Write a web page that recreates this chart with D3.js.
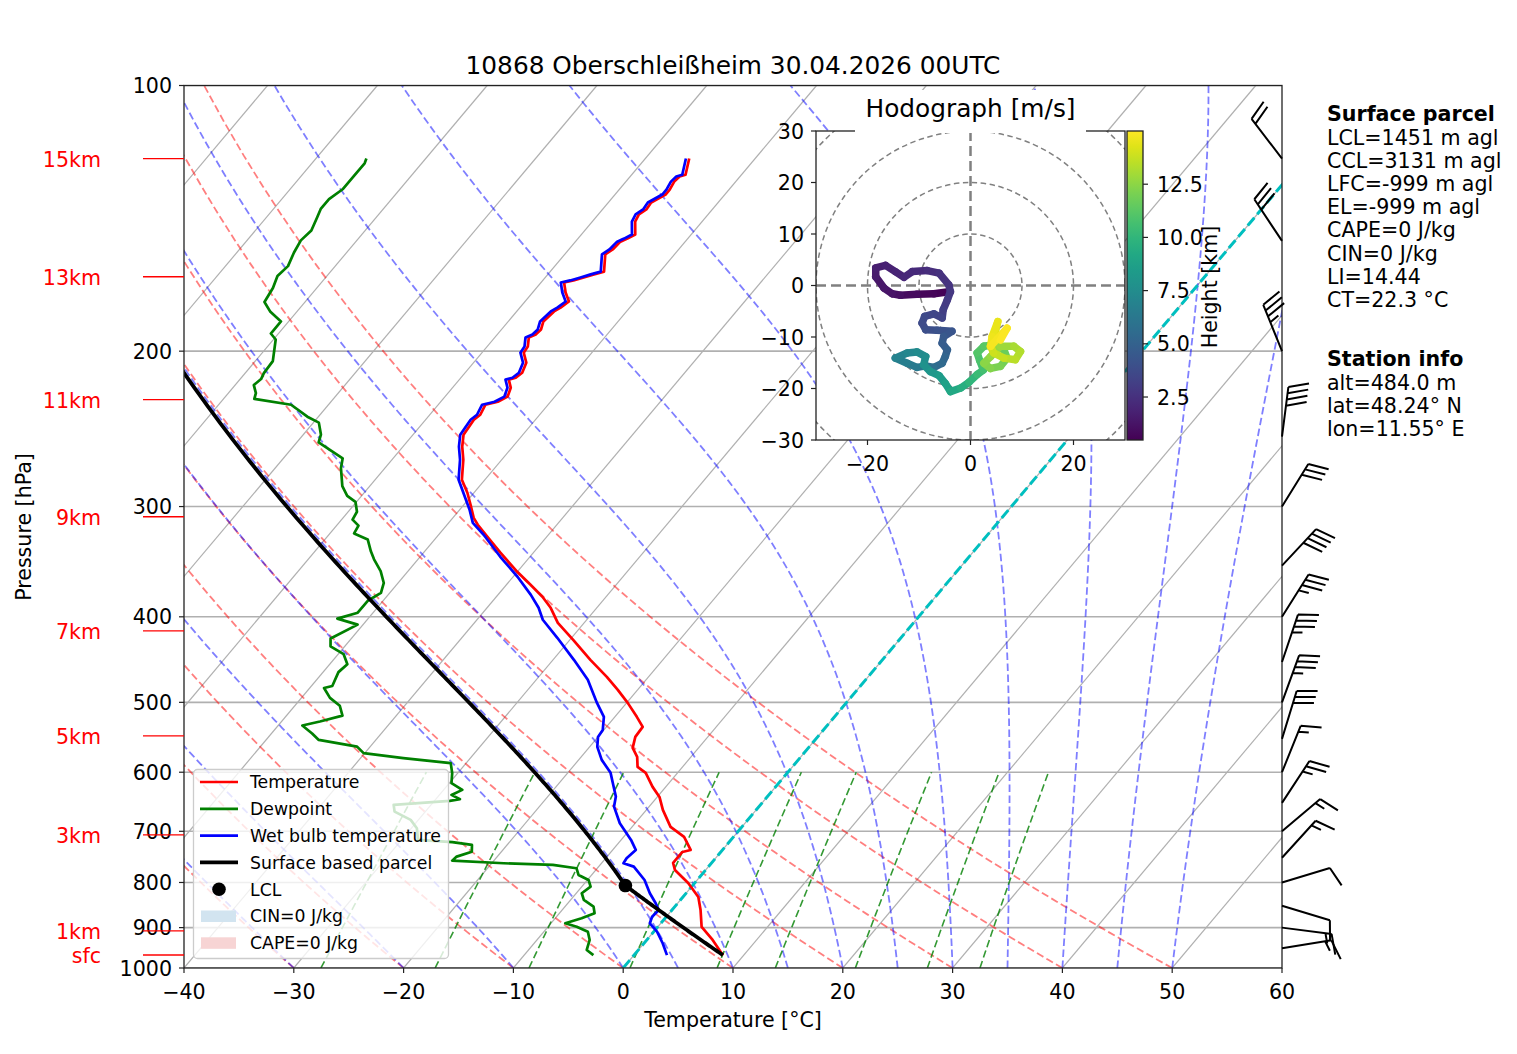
<!DOCTYPE html>
<html>
<head>
<meta charset="utf-8">
<script src="https://cdn.jsdelivr.net/npm/d3@7"></script>
<style>
body { margin: 0; background: #fff; }
svg text { font-family: "DejaVu Sans", sans-serif; }
</style>
</head>
<body>
<div id="chart"></div>
<script>

// ---- SOUNDING DATA (hPa / degC) ----

const tempP = [121.0,126.2,126.8,128.5,131.2,132.9,135.7,138.2,140.0,142.6,147.5,149.1,150.3,153.4,155.4,162.5,163.7,165.0,166.3,167.2,
  171.6,175.7,178.5,180.3,185.1,189.0,191.5,193.0,197.6,200.8,206.1,211.6,214.4,215.4,220.0,225.2,228.2,230.0,236.1,239.2,
  248.7,256.6,265.5,279.7,289.4,300.1,309.0,314.6,324.6,338.4,355.7,367.9,379.6,390.7,406.3,424.7,447.5,467.8,484.0,500.7,
  519.3,533.0,547.2,563.1,576.5,591.7,601.0,623.4,640.0,662.0,692.0,710.3,734.9,738.8,760.3,774.3,801.0,830.8,859.5,898.5,
  929.5,967.0]
const tempT = [-56.0,-55.1,-55.5,-55.6,-55.4,-55.4,-56.1,-56.0,-56.3,-56.1,-55.1,-55.5,-55.9,-56.0,-56.3,-55.1,-55.8,-56.5,-57.2,-57.9,
  -57.0,-56.0,-56.3,-56.6,-56.8,-56.4,-56.5,-56.9,-56.3,-56.2,-55.2,-54.8,-55.0,-55.5,-54.7,-54.3,-54.8,-55.7,-55.4,-55.6,
  -55.4,-54.6,-53.5,-52.1,-50.6,-49.2,-48.1,-47.2,-45.4,-43.0,-40.0,-37.8,-35.8,-34.2,-32.4,-29.7,-26.6,-23.8,-21.8,-19.9,
  -18.0,-16.7,-16.6,-16.0,-14.9,-14.1,-12.9,-11.2,-9.8,-8.5,-6.5,-4.5,-2.9,-3.5,-3.5,-2.8,-0.6,1.4,2.6,4.0,
  6.0,8.1]

const wetP = [121.0,126.2,126.8,128.5,131.2,132.9,135.7,138.2,140.0,142.6,147.5,149.1,150.3,153.4,155.4,162.5,163.7,165.0,166.3,167.2,
  171.6,175.7,178.5,180.3,185.1,189.0,191.5,193.0,197.6,200.8,206.1,211.6,214.4,215.4,220.0,225.2,228.2,230.0,236.1,239.2,
  248.7,256.6,265.5,279.7,294.7,302.5,313.0,322.9,342.0,360.3,377.7,390.7,403.1,422.5,447.5,471.5,500.7,519.3,537.3,547.2,
  561.6,581.0,601.0,617.4,639.4,656.3,685.4,715.9,734.9,751.0,760.9,767.6,794.8,822.8,844.6,859.5,874.7,889.9,909.6,937.5,
  967.0]
const wetT = [-56.3,-55.4,-55.8,-55.9,-55.7,-55.7,-56.4,-56.3,-56.6,-56.4,-55.4,-55.8,-56.2,-56.3,-56.6,-55.4,-56.1,-56.8,-57.5,-58.2,
  -57.3,-56.3,-56.6,-56.9,-57.1,-56.7,-56.8,-57.2,-56.6,-56.5,-55.5,-55.1,-55.3,-55.8,-55.0,-54.6,-55.1,-56.0,-55.7,-55.9,
  -55.7,-54.9,-53.8,-52.4,-50.2,-49.1,-47.8,-45.9,-42.7,-39.6,-37.0,-35.3,-34.0,-31.3,-28.1,-25.3,-22.7,-21.0,-20.1,-20.0,
  -19.3,-17.9,-16.1,-15.1,-13.8,-13.2,-11.4,-9.1,-7.9,-8.1,-8.0,-6.8,-4.8,-3.3,-2.0,-1.2,-1.3,-1.0,0.3,1.7,
  3.0]

const dewP = [121.0,122.5,125.7,131.0,134.5,138.0,140.9,146.0,149.8,154.6,160.2,164.4,169.6,175.9,180.5,185.1,191.0,194.0,205.3,211.8,
  215.1,218.5,223.1,226.5,230.0,237.3,241.0,248.6,253.8,259.1,264.5,271.4,284.4,291.8,296.3,304.1,310.4,315.3,321.8,326.9,
  337.2,344.3,355.0,366.2,375.8,383.6,395.7,401.9,408.2,423.2,432.0,441.0,452.6,462.1,479.1,481.6,494.2,504.5,517.7,525.7,
  531.2,542.3,551.5,561.2,570.9,578.4,586.0,601.5,617.4,628.3,636.6,643.8,646.6,653.4,665.0,679.5,694.4,715.9,720.2,725.4,
  738.2,747.8,755.7,760.9,764.2,770.8,784.4,794.8,808.8,822.8,837.3,852.1,866.9,878.3,889.9,897.8,909.6,929.5,954.1,967.0]
const dewT = [-85.4,-85.2,-85.2,-85.2,-85.7,-85.7,-85.4,-84.9,-85.1,-84.8,-84.3,-84.5,-84.0,-83.7,-82.4,-80.7,-80.7,-79.8,-78.4,-78.3,
  -78.1,-78.3,-77.5,-77.2,-73.4,-71.0,-69.5,-68.4,-68.0,-66.3,-64.6,-64.0,-62.5,-61.3,-60.1,-59.2,-59.0,-58.0,-57.8,-56.1,
  -54.9,-54.0,-52.5,-51.3,-50.8,-51.4,-51.4,-52.8,-50.5,-51.9,-51.3,-49.5,-48.4,-48.6,-48.1,-48.7,-47.4,-45.9,-44.9,-46.5,
  -47.8,-46.3,-45.2,-41.2,-40.1,-36.1,-31.4,-30.5,-29.8,-28.3,-28.9,-27.8,-28.6,-33.4,-32.8,-30.7,-29.5,-28.5,-25.2,-23.2,
  -22.7,-23.7,-23.8,-18.9,-14.3,-11.9,-11.2,-9.9,-9.2,-9.5,-8.8,-7.4,-6.8,-7.6,-8.7,-7.4,-6.0,-5.2,-4.7,-3.7]

// wind barbs (knots)
const barbP = [121, 150, 200, 250, 300, 350, 400, 450, 500, 550, 600, 650, 700, 750, 800, 850, 900, 950]
const barbU = [12.2, 16.6, 13.1, -5.1, -15.8, -27.3, -18.6, -11.2, -12.0, -8.8, -5.6, -13.7, -11.5, -10.1, -9.6, -9.6, -14.9, -14.8]
const barbV = [-15.9, -25.0, -32.4, -39.7, -25.5, -29.3, -29.6, -33.2, -32.9, -28.7, -13.9, -20.9, -9.7, -11.1, -2.9, 2.9, 1.9, -2.4]

// hodograph (km, m/s)
const hodoH = [0.48,0.6,0.8,1.0,1.15,1.3,1.45,1.6,1.75,1.9,2.0,2.15,2.3,2.45,2.6,2.75,2.9,3.1,3.3,3.45,
  3.6,3.75,3.9,4.05,4.2,4.4,4.6,4.8,5.0,5.3,5.6,5.9,6.2,6.5,6.8,7.1,7.3,7.5,7.7,8.0,
  8.3,8.6,9.0,9.4,9.8,10.2,10.5,10.8,11.0,11.2,11.4,11.6,11.8,12.0,12.2,12.4,12.6,12.8,13.0,13.2,
  13.4,13.6,13.8,14.0,14.2,14.4,14.6,14.7,14.85,15.0]
const hodoU = [-4.2,-7.1,-10.4,-13.6,-15.2,-16.8,-18.4,-18.4,-16.5,-14.6,-12.9,-11.3,-8.4,-6.1,-4.2,-3.9,-4.5,-5.3,-5.5,-7.1,
  -8.9,-9.4,-8.7,-6.5,-3.6,-5.2,-5.5,-4.5,-4.9,-5.5,-7.1,-8.7,-10.4,-12.3,-14.6,-12.3,-10.4,-8.7,-9.1,-7.8,
  -6.1,-4.9,-3.9,-1.9,-0.3,1.3,2.5,1.8,1.3,2.6,4.5,6.5,7.1,5.8,3.9,2.6,3.9,5.8,8.4,9.7,
  8.7,6.5,4.5,3.9,4.9,5.3,4.2,3.9,7.1,5.8]
const hodoV = [-1.2,-1.6,-1.7,-1.9,-1.6,-0.5,1.7,3.4,3.9,2.7,1.6,2.7,2.9,2.4,0.1,-1.2,-2.8,-4.7,-6.3,-5.5,
  -6.0,-7.3,-8.6,-8.7,-8.9,-9.9,-11.2,-12.5,-13.8,-15.1,-15.9,-15.6,-15.9,-15.1,-14.1,-13.1,-12.9,-13.8,-15.4,-16.7,
  -17.5,-19.0,-20.6,-19.9,-18.8,-17.3,-16.4,-14.6,-13.1,-11.8,-11.5,-12.5,-14.1,-15.7,-16.1,-15.1,-13.8,-11.8,-11.8,-12.8,
  -14.4,-14.1,-13.1,-11.8,-8.6,-7.0,-9.9,-11.8,-8.3,-10.6]

// surface parcel start
const sfcP = 967.0, sfcT = 8.1, sfcTd = -3.7

// axes ticks and labels
const pTicks = [100, 200, 300, 400, 500, 600, 700, 800, 900, 1000]
const tTicks = [-40, -30, -20, -10, 0, 10, 20, 30, 40, 50, 60]
const heightLabels = ['15km', '13km', '11km', '9km', '7km', '5km', '3km', '1km', 'sfc']
const heightLabelP = [121.0, 164.7, 227.0, 308.1, 414.9, 545.7, 706.7, 907.9, 966.6]
const dryT0 = [-40, -30, -20, -10, 0, 10, 20, 30, 40, 50]
const moistT0 = [-40, -30, -20, -10, 0, 5, 10, 15, 20, 25, 30, 35, 40, 45, 50]
const mixRatios = [0.0004, 0.001, 0.002, 0.004, 0.007, 0.01, 0.016, 0.024, 0.032]

const parcelText = ['LCL=1451 m agl', 'CCL=3131 m agl', 'LFC=-999 m agl', 'EL=-999 m agl',
  'CAPE=0 J/kg', 'CIN=0 J/kg', 'LI=14.44', 'CT=22.3 °C']
const stationText = ['alt=484.0 m', 'lat=48.24° N', 'lon=11.55° E']

// ---- LAYOUT ----

const W = 1517, H = 1054
const plot = { left: 184, right: 1282, top: 85.5, bottom: 968 }
const skew = 0.8412
const fs = '20.6px'
const minus = s => String(s).replace('-', '\u2212')

const x = d3.scaleLinear().domain([-40, 60]).range([plot.left, plot.right])
const y = d3.scaleLog().domain([1000, 100]).range([plot.bottom, plot.top])
const sx = (t, p) => x(t) + (plot.bottom - y(p)) * skew

const skewLine = d3.line().x(d => sx(d[1], d[0])).y(d => y(d[0])).curve(d3.curveLinear)

const svg = d3.select('#chart').append('svg')
  .attr('width', W).attr('height', H)
  .style('background', '#fff')

svg.append('defs').append('clipPath').attr('id', 'plotClip')
  .append('rect')
  .attr('x', plot.left).attr('y', plot.top)
  .attr('width', plot.right - plot.left).attr('height', plot.bottom - plot.top)

// ---- THERMODYNAMICS ----

const Rd = 287.04749, Cp = 1004.6662, Lv = 2.50084e6, eps = 0.6219569, kappa = Rd / Cp

function satVap(tc) { return 6.112 * Math.exp(17.67 * tc / (tc + 243.5)) }

function dTdp(p, tk) {
  const es = satVap(tk - 273.15)
  const rs = eps * es / (p - es)
  return (Rd * tk + Lv * rs) / (Cp + Lv * Lv * rs * eps / (Rd * tk * tk)) / p
}

function moistPath(t0, p0, p1, steps) {
  let tk = t0 + 273.15, p = p0
  const dp = (p1 - p0) / steps
  const out = [[p, t0]]
  for (let i = 0; i < steps; i++) {
    const k1 = dTdp(p, tk)
    const k2 = dTdp(p + dp / 2, tk + dp / 2 * k1)
    const k3 = dTdp(p + dp / 2, tk + dp / 2 * k2)
    const k4 = dTdp(p + dp, tk + dp * k3)
    tk += dp / 6 * (k1 + 2 * k2 + 2 * k3 + k4)
    p += dp
    out.push([p, tk - 273.15])
  }
  return out
}

function dryPath(t0, p0, p1) {
  return d3.range(p0, p1 - 0.01, (p1 - p0) / 90).concat([p1])
    .map(p => [p, (t0 + 273.15) * Math.pow(p / p0, kappa) - 273.15])
}

function mixPath(w) {
  return d3.range(1000, 599, -10).map(p => {
    const e = p * w / (eps + w)
    const l = Math.log(e / 6.112)
    return [p, 243.5 * l / (17.67 - l)]
  })
}

// LCL (Bolton)
const tK = sfcT + 273.15, tdK = sfcTd + 273.15
const lclK = 1 / (1 / (tdK - 56) + Math.log(tK / tdK) / 800) + 56
const lclP = sfcP * Math.pow(lclK / tK, 1 / kappa)
const lclT = lclK - 273.15
const parcel = dryPath(sfcT, sfcP, lclP).concat(moistPath(lclT, lclP, 100, 200).slice(1))

// ---- BACKGROUND ----

const bg = svg.append('g').attr('clip-path', 'url(#plotClip)')

bg.selectAll('.hgrid').data(pTicks).enter().append('line')
  .attr('x1', plot.left).attr('x2', plot.right)
  .attr('y1', d => y(d)).attr('y2', d => y(d))
  .style('stroke', '#b0b0b0').style('stroke-width', 1.6)

bg.selectAll('.iso').data(d3.range(-110, 61, 10)).enter().append('line')
  .attr('x1', d => sx(d, 1000)).attr('y1', y(1000))
  .attr('x2', d => sx(d, 100)).attr('y2', y(100))
  .style('stroke', '#b0b0b0').style('stroke-width', 1.2)

bg.selectAll('.dry').data(dryT0).enter().append('path')
  .attr('d', d => skewLine(dryPath(d, 1000, 100)))
  .style('fill', 'none').style('stroke', '#ff0000').style('stroke-opacity', 0.5)
  .style('stroke-width', 1.8).style('stroke-dasharray', '7.5,3.5')

bg.selectAll('.moist').data(moistT0).enter().append('path')
  .attr('d', d => skewLine(moistPath(d, 1000, 100, 180)))
  .style('fill', 'none').style('stroke', '#0000ff').style('stroke-opacity', 0.5)
  .style('stroke-width', 1.8).style('stroke-dasharray', '7.5,3.5')

bg.selectAll('.mix').data(mixRatios).enter().append('path')
  .attr('d', d => skewLine(mixPath(d)))
  .style('fill', 'none').style('stroke', '#008000').style('stroke-opacity', 0.8)
  .style('stroke-width', 1.6).style('stroke-dasharray', '7.5,3.5')

bg.append('line')
  .attr('x1', sx(0, 1000)).attr('y1', y(1000))
  .attr('x2', sx(0, 100)).attr('y2', y(100))
  .style('stroke', '#00bfbf').style('stroke-width', 3).style('stroke-dasharray', '10.3,4.4')

// ---- PROFILES ----

const zip = (ps, ts) => ps.map((p, i) => [p, ts[i]])
const prof = svg.append('g').attr('clip-path', 'url(#plotClip)')

function drawProfile(data, color, width) {
  prof.append('path')
    .attr('d', skewLine(data))
    .style('fill', 'none').style('stroke', color).style('stroke-width', width)
    .style('stroke-linejoin', 'round')
}

drawProfile(zip(tempP, tempT), '#ff0000', 2.7)
drawProfile(zip(dewP, dewT), '#008000', 2.7)
drawProfile(zip(wetP, wetT), '#0000ff', 2.7)
drawProfile(parcel, '#000000', 3.8)

prof.append('circle')
  .attr('cx', sx(lclT, lclP)).attr('cy', y(lclP)).attr('r', 6.8)
  .style('fill', '#000')

// ---- AXES ----

const axes = svg.append('g')

axes.append('rect')
  .attr('x', plot.left).attr('y', plot.top)
  .attr('width', plot.right - plot.left).attr('height', plot.bottom - plot.top)
  .style('fill', 'none').style('stroke', '#222').style('stroke-width', 1.3)

axes.selectAll('.ytick').data(pTicks).enter().append('line')
  .attr('x1', plot.left - 5).attr('x2', plot.left)
  .attr('y1', d => y(d)).attr('y2', d => y(d))
  .style('stroke', '#222').style('stroke-width', 1.2)

axes.selectAll('.ylab').data(pTicks).enter().append('text')
  .attr('x', plot.left - 12).attr('y', d => y(d) + 7.5)
  .attr('text-anchor', 'end').style('font-size', fs)
  .text(d => d)

axes.selectAll('.xtick').data(tTicks).enter().append('line')
  .attr('x1', d => x(d)).attr('x2', d => x(d))
  .attr('y1', plot.bottom).attr('y2', plot.bottom + 5)
  .style('stroke', '#222').style('stroke-width', 1.2)

axes.selectAll('.xlab').data(tTicks).enter().append('text')
  .attr('x', d => x(d)).attr('y', plot.bottom + 31)
  .attr('text-anchor', 'middle').style('font-size', fs)
  .text(d => minus(d))

axes.append('text')
  .attr('x', (plot.left + plot.right) / 2).attr('y', 1027)
  .attr('text-anchor', 'middle').style('font-size', fs)
  .text('Temperature [°C]')

axes.append('text')
  .attr('transform', 'translate(31,527) rotate(-90)')
  .attr('text-anchor', 'middle').style('font-size', fs)
  .text('Pressure [hPa]')

axes.append('text')
  .attr('x', (plot.left + plot.right) / 2).attr('y', 73.5)
  .attr('text-anchor', 'middle').style('font-size', '24.8px')
  .text('10868 Oberschleißheim 30.04.2026 00UTC')

// height labels
heightLabels.forEach((lab, i) => {
  const yy = y(heightLabelP[i])
  axes.append('line')
    .attr('x1', 143).attr('x2', plot.left).attr('y1', yy).attr('y2', yy)
    .style('stroke', '#ff0000').style('stroke-width', 1.3)
  axes.append('text')
    .attr('x', 101).attr('y', yy + 8.5)
    .attr('text-anchor', 'end').style('font-size', fs).style('fill', '#ff0000')
    .text(lab)
})

// ---- WIND BARBS ----

const barbs = svg.append('g')
  .style('stroke', '#000').style('stroke-width', 2).style('fill', 'none')
  .style('stroke-linecap', 'butt').style('stroke-linejoin', 'miter')

function drawBarb(bx, by, u, v) {
  const s = Math.hypot(u, v)
  const spd = Math.round(s / 5) * 5
  const L = 50, hb = 0.4 * L, wb = 0.25 * L, sp = 0.125 * L
  const dx = -u / s, dy = v / s
  const px = -v / s, py = -u / s
  const at = o => [bx + (L - o) * dx, by + (L - o) * dy]
  let d = `M${bx},${by}L${bx + L * dx},${by + L * dy}`
  let o = 0
  const nFlags = Math.floor(spd / 50)
  const nBarbs = Math.floor((spd % 50) / 10)
  const half = (spd % 10) >= 5
  for (let i = 0; i < nFlags; i++) {
    const a = at(o)
    d += `M${a[0]},${a[1]}L${a[0] + hb * px - wb / 2 * dx},${a[1] + hb * py - wb / 2 * dy}L${a[0] - wb * dx},${a[1] - wb * dy}`
    o += wb + sp
  }
  for (let i = 0; i < nBarbs; i++) {
    const a = at(o)
    d += `M${a[0]},${a[1]}L${a[0] + hb * px + wb / 2 * dx},${a[1] + hb * py + wb / 2 * dy}`
    o += sp
  }
  if (half) {
    if (o === 0) o += 1.5 * sp
    const a = at(o)
    d += `M${a[0]},${a[1]}L${a[0] + hb / 2 * px + wb / 4 * dx},${a[1] + hb / 2 * py + wb / 4 * dy}`
  }
  barbs.append('path').attr('d', d)
}

barbP.forEach((p, i) => drawBarb(plot.right, y(p), barbU[i], barbV[i]))

// ---- LEGEND ----

const legend = svg.append('g')
legend.append('rect')
  .attr('x', 193.5).attr('y', 769.5).attr('width', 255).attr('height', 189).attr('rx', 4)
  .style('fill', '#fff').style('fill-opacity', 0.8).style('stroke', '#cccccc').style('stroke-width', 1.3)

const legendItems = [
  { label: 'Temperature', type: 'line', color: '#ff0000', w: 2.7 },
  { label: 'Dewpoint', type: 'line', color: '#008000', w: 2.7 },
  { label: 'Wet bulb temperature', type: 'line', color: '#0000ff', w: 2.7 },
  { label: 'Surface based parcel', type: 'line', color: '#000000', w: 3.8 },
  { label: 'LCL', type: 'dot', color: '#000000' },
  { label: 'CIN=0 J/kg', type: 'patch', color: 'rgb(210,228,240)' },
  { label: 'CAPE=0 J/kg', type: 'patch', color: 'rgb(247,212,212)' }
]

legendItems.forEach((it, i) => {
  const yy = 782 + i * 26.8
  if (it.type === 'line') {
    legend.append('line').attr('x1', 200).attr('x2', 238).attr('y1', yy).attr('y2', yy)
      .style('stroke', it.color).style('stroke-width', it.w)
  } else if (it.type === 'dot') {
    legend.append('circle').attr('cx', 219).attr('cy', yy).attr('r', 6.8).style('fill', it.color)
  } else {
    legend.append('rect').attr('x', 201).attr('y', yy - 5.5).attr('width', 35).attr('height', 11.5)
      .style('fill', it.color)
  }
  legend.append('text').attr('x', 250).attr('y', yy + 6.3)
    .style('font-size', '17.3px').text(it.label)
})

// ---- HODOGRAPH ----

const hb = { left: 816, right: 1125, top: 131, bottom: 440 }
const hu = d3.scaleLinear().domain([-30, 30]).range([hb.left, hb.right])
const hv = d3.scaleLinear().domain([-30, 30]).range([hb.bottom, hb.top])
const hExt = d3.extent(hodoH)
const hColor = h => d3.interpolateViridis((h - hExt[0]) / (hExt[1] - hExt[0]))

const hodo = svg.append('g')
hodo.append('defs').append('clipPath').attr('id', 'hodoClip').append('rect')
  .attr('x', hb.left).attr('y', hb.top).attr('width', hb.right - hb.left).attr('height', hb.bottom - hb.top)

hodo.append('rect')
  .attr('x', hb.left).attr('y', hb.top).attr('width', hb.right - hb.left).attr('height', hb.bottom - hb.top)
  .style('fill', '#fff')

const hodoIn = hodo.append('g').attr('clip-path', 'url(#hodoClip)')

hodoIn.selectAll('.ring').data([10, 20, 30, 40]).enter().append('circle')
  .attr('cx', hu(0)).attr('cy', hv(0)).attr('r', d => hu(d) - hu(0))
  .style('fill', 'none').style('stroke', '#808080').style('stroke-width', 1.5)
  .style('stroke-dasharray', '5.5,3.5')

hodoIn.append('line').attr('x1', hu(0)).attr('x2', hu(0)).attr('y1', hb.top).attr('y2', hb.bottom)
  .style('stroke', '#808080').style('stroke-width', 2.5).style('stroke-dasharray', '10,5')
hodoIn.append('line').attr('x1', hb.left).attr('x2', hb.right).attr('y1', hv(0)).attr('y2', hv(0))
  .style('stroke', '#808080').style('stroke-width', 2.5).style('stroke-dasharray', '10,5')

const segs = d3.range(hodoH.length - 1).map(i => ({
  x1: hu(hodoU[i]), y1: hv(hodoV[i]), x2: hu(hodoU[i + 1]), y2: hv(hodoV[i + 1]),
  h: (hodoH[i] + hodoH[i + 1]) / 2
}))

hodoIn.selectAll('.seg').data(segs).enter().append('line')
  .attr('x1', d => d.x1).attr('y1', d => d.y1).attr('x2', d => d.x2).attr('y2', d => d.y2)
  .style('stroke', d => hColor(d.h)).style('stroke-width', 7.5).style('stroke-linecap', 'round')

hodo.append('rect')
  .attr('x', hb.left).attr('y', hb.top).attr('width', hb.right - hb.left).attr('height', hb.bottom - hb.top)
  .style('fill', 'none').style('stroke', '#222').style('stroke-width', 1.3)

const hTicksV = [-30, -20, -10, 0, 10, 20, 30]
const hTicksU = [-20, 0, 20]

hodo.selectAll('.hvt').data(hTicksV).enter().append('line')
  .attr('x1', hb.left - 5).attr('x2', hb.left).attr('y1', d => hv(d)).attr('y2', d => hv(d))
  .style('stroke', '#222').style('stroke-width', 1.2)
hodo.selectAll('.hvl').data(hTicksV).enter().append('text')
  .attr('x', hb.left - 12).attr('y', d => hv(d) + 7.5)
  .attr('text-anchor', 'end').style('font-size', fs).text(d => minus(d))

hodo.selectAll('.hut').data(hTicksU).enter().append('line')
  .attr('x1', d => hu(d)).attr('x2', d => hu(d)).attr('y1', hb.bottom).attr('y2', hb.bottom + 5)
  .style('stroke', '#222').style('stroke-width', 1.2)
hodo.selectAll('.hul').data(hTicksU).enter().append('text')
  .attr('x', d => hu(d)).attr('y', hb.bottom + 31)
  .attr('text-anchor', 'middle').style('font-size', fs).text(d => minus(d))

// title with white box covering top spine
hodo.append('rect').attr('x', 855).attr('y', 90).attr('width', 231).attr('height', 43)
  .style('fill', '#fff')
hodo.append('text').attr('x', (hb.left + hb.right) / 2).attr('y', 117)
  .attr('text-anchor', 'middle').style('font-size', '24.8px').text('Hodograph [m/s]')

// colorbar
const cb = { left: 1127, right: 1143, top: 131, bottom: 440 }
const cbScale = d3.scaleLinear().domain(hExt).range([cb.bottom, cb.top])
const grad = svg.append('defs').append('linearGradient').attr('id', 'viridisGrad')
  .attr('x1', 0).attr('y1', 1).attr('x2', 0).attr('y2', 0)
d3.range(0, 1.001, 0.05).forEach(t => {
  grad.append('stop').attr('offset', t).attr('stop-color', d3.interpolateViridis(t))
})
hodo.append('rect').attr('x', cb.left).attr('y', cb.top)
  .attr('width', cb.right - cb.left).attr('height', cb.bottom - cb.top)
  .style('fill', 'url(#viridisGrad)').style('stroke', '#222').style('stroke-width', 1.3)

const cbTicks = [2.5, 5.0, 7.5, 10.0, 12.5]
hodo.selectAll('.cbt').data(cbTicks).enter().append('line')
  .attr('x1', cb.right).attr('x2', cb.right + 5).attr('y1', d => cbScale(d)).attr('y2', d => cbScale(d))
  .style('stroke', '#222').style('stroke-width', 1.2)
hodo.selectAll('.cbl').data(cbTicks).enter().append('text')
  .attr('x', cb.right + 14).attr('y', d => cbScale(d) + 7.5)
  .style('font-size', fs).text(d => d.toFixed(1))
hodo.append('text')
  .attr('transform', 'translate(1217,287) rotate(-90)')
  .attr('text-anchor', 'middle').style('font-size', fs).text('Height [km]')

// ---- TEXT BOXES ----

const info = svg.append('g').style('font-size', fs)
info.append('text').attr('x', 1327).attr('y', 121).style('font-weight', 'bold').text('Surface parcel')
parcelText.forEach((t, i) => info.append('text').attr('x', 1327).attr('y', 145 + i * 23.1).text(t))
info.append('text').attr('x', 1327).attr('y', 366).style('font-weight', 'bold').text('Station info')
stationText.forEach((t, i) => info.append('text').attr('x', 1327).attr('y', 390 + i * 23.1).text(t))

</script>
</body>
</html>
